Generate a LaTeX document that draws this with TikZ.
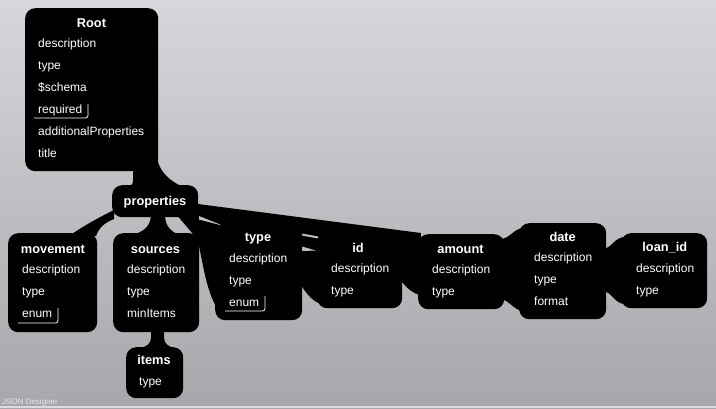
\documentclass[tikz,border=0pt]{standalone}
\usepackage{fontspec}
\setmainfont{Liberation Sans}
\definecolor{bgtop}{RGB}{214,215,218}
\definecolor{bgbot}{RGB}{166,167,171}
\definecolor{sliver}{RGB}{190,191,194}
\definecolor{brand}{RGB}{232,232,234}
\begin{document}
\begin{tikzpicture}[x=1pt,y=-1pt,
  box/.style={fill=black, rounded corners=10pt, inner sep=0pt, anchor=north west, draw=none},
  ttl/.style={text=white, font=\bfseries\fontsize{12.8}{15}\selectfont, inner sep=0pt, text height=9.2pt, text depth=2.6pt},
  itm/.style={text=white, font=\fontsize{12}{14}\selectfont, inner sep=0pt, anchor=west, text height=8.6pt, text depth=2.5pt},
  conn/.style={fill=black},
  gap/.style={fill=sliver},
  bracket/.style={draw=white, line width=0.8pt, rounded corners=2.5pt}]
\useasboundingbox (0,0) rectangle (716,408);
\shade[top color=bgtop, bottom color=bgbot] (0,0) rectangle (716,408);
\fill[brand!80!bgbot] (0,406) rectangle (716,408);

% ---------- connectors ----------
% Root -> properties
\fill[conn] (133,165) -- (133,181) .. controls (133,185) and (130,187) .. (124,188)
  -- (196,192) .. controls (178,186) and (163,178) .. (158,162) -- cycle;
% properties -> movement
\fill[conn] (114,210) .. controls (100,217) and (85,225) .. (72,234)
  -- (96,236) .. controls (99,227) and (106,222) .. (114,219) -- cycle;
% properties -> sources
\fill[conn] (151,214) .. controls (151,227) and (143,232) .. (130,236)
  -- (182,236) .. controls (171,232) and (165,227) .. (165,214) -- cycle;
% properties -> type / id / amount (wide fan)
\fill[conn] (176,214) -- (198,204) -- (421,233) -- (420,295)
  .. controls (412,293) and (407,288) .. (402,282) -- (380,281) -- (321,304)
  .. controls (312,301) and (306,293) .. (301,285) -- (280,285) -- (217,308)
  .. controls (207,292) and (203,265) .. (199,246) -- (198,240) -- cycle;
% slivers inside the fan
\fill[gap] (199,216) -- (199,219.5) -- (224,226) -- cycle;
\fill[gap] (302,233.5) -- (318,236.5) -- (318,238.5) -- (302,235.5) -- cycle;
\fill[gap] (302,246.5) -- (316,250.5) -- (302,251) -- cycle;
% amount <-> date
\fill[conn] (500,239) .. controls (510,239) and (513,229) .. (523,228)
  -- (523,311) .. controls (513,310) and (510,300) .. (500,299) -- cycle;
% date <-> loan_id
\fill[conn] (603,249) .. controls (612,248) and (614,238) .. (624,237)
  -- (624,304) .. controls (614,303) and (612,292) .. (603,291) -- cycle;
% sources -> items
\fill[conn] (151,325) -- (151,338) .. controls (151,344) and (146,347) .. (138,349)
  -- (177,349) .. controls (169,347) and (164,344) .. (164,338) -- (164,325) -- cycle;

% ---------- boxes ----------
\node[box, minimum width=133pt, minimum height=163pt] (root) at (25,8) {};
\node[box, minimum width=86pt, minimum height=32pt] (props) at (112,185) {};
\node[box, minimum width=89pt, minimum height=99pt] (movement) at (8,233) {};
\node[box, minimum width=86pt, minimum height=99pt] (sources) at (113,233) {};
\node[box, minimum width=57pt, minimum height=51pt] (items) at (126,347) {};
\node[box, minimum width=87pt, minimum height=97pt] (typebox) at (215,223) {};
\node[box, minimum width=85pt, minimum height=75pt] (idbox) at (317,233) {};
\node[box, minimum width=86pt, minimum height=75pt] (amount) at (418,234) {};
\node[box, minimum width=87pt, minimum height=96pt] (date) at (519,223) {};
\node[box, minimum width=86pt, minimum height=75pt] (loan) at (621,233) {};

% ---------- texts ----------
\node[ttl] (root-t) at (91.5,24) {Root};
\node[itm] (root-1) at (38,44) {description};
\node[itm] (root-2) at (38,66) {type};
\node[itm] (root-3) at (38,88) {\$schema};
\node[itm] (root-4) at (38,110) {required};
\node[itm] (root-5) at (38,132.5) {additionalProperties};
\node[itm] (root-6) at (38,154.5) {title};
\draw[bracket] (34,118) -- (88,118) -- (88,104);

\node[ttl] (props-t) at (155,202) {properties};

\node[ttl] (mov-t) at (53,250) {movement};
\node[itm] (mov-1) at (22,270) {description};
\node[itm] (mov-2) at (22,292) {type};
\node[itm] (mov-3) at (22,314) {enum};
\draw[bracket] (18,323) -- (58,323) -- (58,308);

\node[ttl] (src-t) at (155.5,250) {sources};
\node[itm] (src-1) at (127,270) {description};
\node[itm] (src-2) at (127,292) {type};
\node[itm] (src-3) at (127,314) {minItems};

\node[ttl] (itm-t) at (154,361) {items};
\node[itm] (itm-1) at (139,382) {type};

\node[ttl] (typ-t) at (258,238) {type};
\node[itm] (typ-1) at (229,259) {description};
\node[itm] (typ-2) at (229,281) {type};
\node[itm] (typ-3) at (229,303) {enum};
\draw[bracket] (225,311) -- (265,311) -- (265,296);

\node[ttl] (id-t) at (358,249) {id};
\node[itm] (id-1) at (331,269) {description};
\node[itm] (id-2) at (331,291) {type};

\node[ttl] (amt-t) at (460.5,250) {amount};
\node[itm] (amt-1) at (432,270) {description};
\node[itm] (amt-2) at (432,292) {type};

\node[ttl] (date-t) at (562.7,238) {date};
\node[itm] (date-1) at (534,258) {description};
\node[itm] (date-2) at (534,280) {type};
\node[itm] (date-3) at (534,302) {format};

\node[ttl] (loan-t) at (664.8,248) {loan\_id};
\node[itm] (loan-1) at (636,269) {description};
\node[itm] (loan-2) at (636,291) {type};

\node[text=brand, font=\fontsize{8}{9}\selectfont, anchor=west, inner sep=0pt] (brandtext) at (2,402) {JSON Designer};
\end{tikzpicture}
\end{document}
